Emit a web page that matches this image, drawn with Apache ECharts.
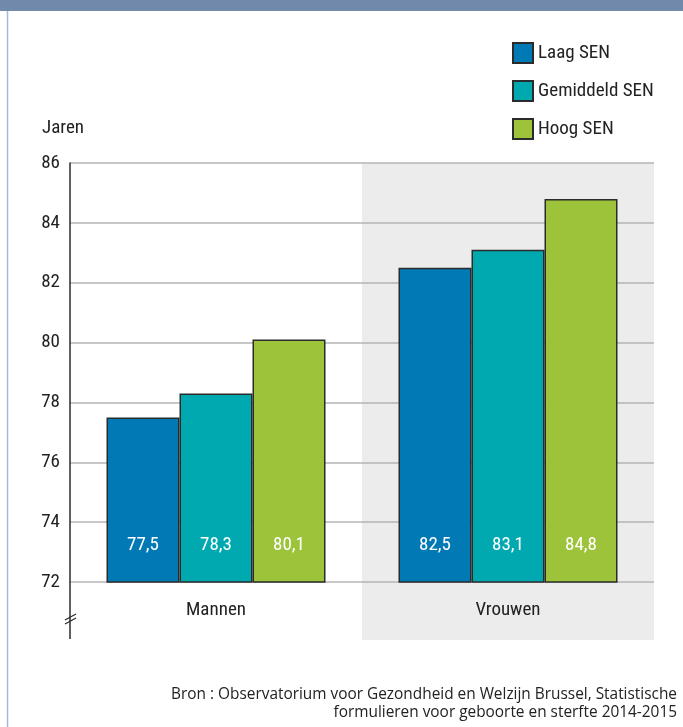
<!DOCTYPE html>
<html><head><meta charset="utf-8">
<script src="https://cdn.jsdelivr.net/npm/echarts@6/dist/echarts.min.js"></script>
<style>html,body{margin:0;padding:0;background:#fff}#c{width:683px;height:727px}</style>
</head><body><div id="c"></div>
<script>
const categories = ['Mannen', 'Vrouwen'];
const laagSEN = [77.5, 82.5];
const gemiddeldSEN = [78.3, 83.1];
const hoogSEN = [80.1, 84.8];
const seriesNames = ['Laag SEN', 'Gemiddeld SEN', 'Hoog SEN'];
const yTicks = [72, 74, 76, 78, 80, 82, 84, 86];

const FONT = '"Liberation Sans Narrow", "Roboto Condensed", "DejaVu Sans Condensed", sans-serif';
const colors = ['#0079b4', '#00a8b0', '#9dc33b'];
const G = {left: 70, top: 163, width: 584, height: 419};

const chart = echarts.init(document.getElementById('c'), null, {renderer: 'canvas'});
function mk(name, data, color) {
  return {
    name, type: 'bar', data, barGap: 0, barCategoryGap: '25%',
    itemStyle: {color, borderColor: '#2b2b2b', borderWidth: 1.5},
    label: {show: true, position: 'insideBottom', distance: 28, color: '#fff',
      fontFamily: FONT, fontSize: 19,
      formatter: p => String(p.value.toFixed(1)).replace('.', ',')}
  };
}
chart.setOption({
  animation: false,
  backgroundColor: '#fff',
  grid: {left: G.left, top: G.top, width: G.width, height: G.height, containLabel: false},
  legend: {
    orient: 'vertical', left: 512, top: 42, padding: 0, itemWidth: 20, itemHeight: 20, itemGap: 16,
    icon: 'rect', data: seriesNames,
    textStyle: {fontFamily: FONT, fontSize: 19, color: '#222', lineHeight: 22}
  },
  xAxis: {
    type: 'category', data: categories,
    axisLine: {show: false}, axisTick: {show: false},
    axisLabel: {fontFamily: FONT, fontSize: 19, color: '#222', margin: 19}
  },
  yAxis: {
    type: 'value', min: yTicks[0], max: yTicks[yTicks.length - 1], interval: 2,
    name: 'Jaren', nameLocation: 'end', nameGap: 25,
    nameTextStyle: {fontFamily: FONT, fontSize: 19, color: '#222', align: 'left', padding: [0, 0, 0, -28]},
    axisLine: {show: true, lineStyle: {color: '#2b2b2b', width: 1.5}},
    axisTick: {show: false},
    axisLabel: {fontFamily: FONT, fontSize: 19, color: '#222', margin: 10},
    splitLine: {show: true, lineStyle: {color: '#b4b4b4', width: 1.5}}
  },
  graphic: [
    {type: 'rect', z: -10, silent: true,
      shape: {x: G.left + G.width / 2, y: G.top, width: G.width / 2, height: 640 - G.top},
      style: {fill: '#ececec'}},
    {type: 'rect', z: -5, shape: {x: 0, y: 0, width: 683, height: 11}, style: {fill: '#7189ab'}},
    {type: 'line', shape: {x1: 7.5, y1: 11, x2: 7.5, y2: 727}, style: {stroke: '#a9b8d6', lineWidth: 1.5}},
    {type: 'line', shape: {x1: G.left, y1: G.top + G.height, x2: G.left, y2: 639}, style: {stroke: '#2b2b2b', lineWidth: 1.5}},
    {type: 'line', shape: {x1: 65, y1: 620, x2: 76, y2: 614}, style: {stroke: '#2b2b2b', lineWidth: 1.2}},
    {type: 'line', shape: {x1: 65, y1: 624, x2: 76, y2: 618}, style: {stroke: '#2b2b2b', lineWidth: 1.2}},
    {type: 'text', x: 677, y: 686,
      style: {text: 'Bron : Observatorium voor Gezondheid en Welzijn Brussel, Statistische\nformulieren voor geboorte en sterfte 2014-2015',
        align: 'right', fontFamily: '"Open Sans", sans-serif', fontSize: 15.4, lineHeight: 18, fill: '#222'}}
  ],
  series: [mk(seriesNames[0], laagSEN, colors[0]), mk(seriesNames[1], gemiddeldSEN, colors[1]), mk(seriesNames[2], hoogSEN, colors[2])]
});
</script></body></html>
